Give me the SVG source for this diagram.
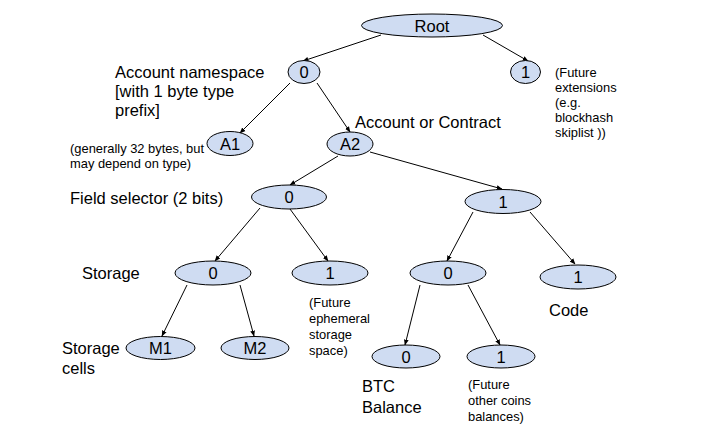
<svg xmlns="http://www.w3.org/2000/svg" width="713" height="448" viewBox="0 0 713 448">
<defs>
<style>
.n{fill:#cfdcf2;stroke:#000;stroke-width:1}
.t{font-family:"Liberation Sans",Arial,sans-serif;font-size:16.5px;fill:#000}
.l{font-family:"Liberation Sans",Arial,sans-serif;font-size:16.5px;fill:#000}
.s{font-family:"Liberation Sans",Arial,sans-serif;font-size:12.9px;fill:#000}
.c{stroke:#000;stroke-width:1;fill:none;marker-end:url(#ah)}
</style>
<marker id="ah" viewBox="0 0 10 10" refX="9" refY="5" markerWidth="6" markerHeight="6" orient="auto" markerUnits="userSpaceOnUse">
<path d="M0,1 L10,5 L0,9 z" fill="#000"/>
</marker>
</defs>
<rect width="713" height="448" fill="#fff"/>
<g id="connectors">
<line class="c" x1="381" y1="35" x2="303" y2="61"/>
<line class="c" x1="483" y1="35" x2="528" y2="61"/>
<line class="c" x1="290" y1="83" x2="240" y2="133"/>
<line class="c" x1="317" y1="83" x2="350" y2="132"/>
<line class="c" x1="338" y1="156" x2="290" y2="185"/>
<line class="c" x1="370" y1="152" x2="502" y2="189"/>
<line class="c" x1="260" y1="208" x2="215" y2="261"/>
<line class="c" x1="290" y1="209" x2="328" y2="261"/>
<line class="c" x1="473" y1="212" x2="447" y2="261"/>
<line class="c" x1="530" y1="212" x2="575" y2="264"/>
<line class="c" x1="187" y1="285" x2="162" y2="336"/>
<line class="c" x1="240" y1="285" x2="254" y2="336"/>
<line class="c" x1="420" y1="285" x2="405" y2="345"/>
<line class="c" x1="468" y1="285" x2="500" y2="345"/>
</g>
<g id="root"><ellipse class="n" cx="432" cy="25.5" rx="70.5" ry="11.5"/><text class="t" x="432" y="31.5" text-anchor="middle">Root</text></g>
<g id="ns0"><ellipse class="n" cx="304" cy="72" rx="16" ry="11.5"/><text class="t" x="304" y="78" text-anchor="middle">0</text></g>
<g id="ns1"><ellipse class="n" cx="525.5" cy="72" rx="15" ry="11.5"/><text class="t" x="525.5" y="78" text-anchor="middle">1</text></g>
<g id="a1"><ellipse class="n" cx="230" cy="143.5" rx="23" ry="12"/><text class="t" x="230" y="149.5" text-anchor="middle">A1</text></g>
<g id="a2"><ellipse class="n" cx="350" cy="144" rx="23" ry="12"/><text class="t" x="350" y="150" text-anchor="middle">A2</text></g>
<g id="f0"><ellipse class="n" cx="289" cy="197" rx="37.5" ry="12"/><text class="t" x="289" y="203" text-anchor="middle">0</text></g>
<g id="f1"><ellipse class="n" cx="503" cy="201.5" rx="38" ry="12"/><text class="t" x="503" y="207.5" text-anchor="middle">1</text></g>
<g id="s0"><ellipse class="n" cx="213" cy="273" rx="38" ry="12"/><text class="t" x="213" y="279" text-anchor="middle">0</text></g>
<g id="s1"><ellipse class="n" cx="330" cy="273" rx="38" ry="12"/><text class="t" x="330" y="279" text-anchor="middle">1</text></g>
<g id="b0"><ellipse class="n" cx="448" cy="273" rx="38" ry="12"/><text class="t" x="448" y="279" text-anchor="middle">0</text></g>
<g id="code"><ellipse class="n" cx="578" cy="277" rx="38" ry="12"/><text class="t" x="578" y="283" text-anchor="middle">1</text></g>
<g id="m1"><ellipse class="n" cx="160.5" cy="348" rx="34.5" ry="11.5"/><text class="t" x="160.5" y="354" text-anchor="middle">M1</text></g>
<g id="m2"><ellipse class="n" cx="255" cy="348" rx="34" ry="11.5"/><text class="t" x="255" y="354" text-anchor="middle">M2</text></g>
<g id="btc"><ellipse class="n" cx="406" cy="356.5" rx="34" ry="11.5"/><text class="t" x="406" y="362.5" text-anchor="middle">0</text></g>
<g id="other"><ellipse class="n" cx="501" cy="356.5" rx="34" ry="11.5"/><text class="t" x="501" y="362.5" text-anchor="middle">1</text></g>
<g id="labels">
<text class="l" x="115" y="78">Account namespace</text>
<text class="l" x="115" y="97">[with 1 byte type</text>
<text class="l" x="115" y="116">prefix]</text>
<text class="s" x="70" y="153">(generally 32 bytes, but</text>
<text class="s" x="70" y="168">may depend on type)</text>
<text class="l" x="355" y="128">Account or Contract</text>
<text class="s" x="555" y="77">(Future</text>
<text class="s" x="555" y="92">extensions</text>
<text class="s" x="555" y="107">(e.g.</text>
<text class="s" x="555" y="122">blockhash</text>
<text class="s" x="555" y="137">skiplist ))</text>
<text class="l" x="70" y="204">Field selector (2 bits)</text>
<text class="l" x="82" y="279">Storage</text>
<text class="s" x="309" y="307">(Future</text>
<text class="s" x="309" y="323">ephemeral</text>
<text class="s" x="309" y="339">storage</text>
<text class="s" x="309" y="355">space)</text>
<text class="l" x="549" y="316">Code</text>
<text class="l" x="62" y="354">Storage</text>
<text class="l" x="62" y="374">cells</text>
<text class="l" x="362" y="392">BTC</text>
<text class="l" x="362" y="413">Balance</text>
<text class="s" x="468" y="389">(Future</text>
<text class="s" x="468" y="405">other coins</text>
<text class="s" x="468" y="421">balances)</text>
</g>
</svg>
